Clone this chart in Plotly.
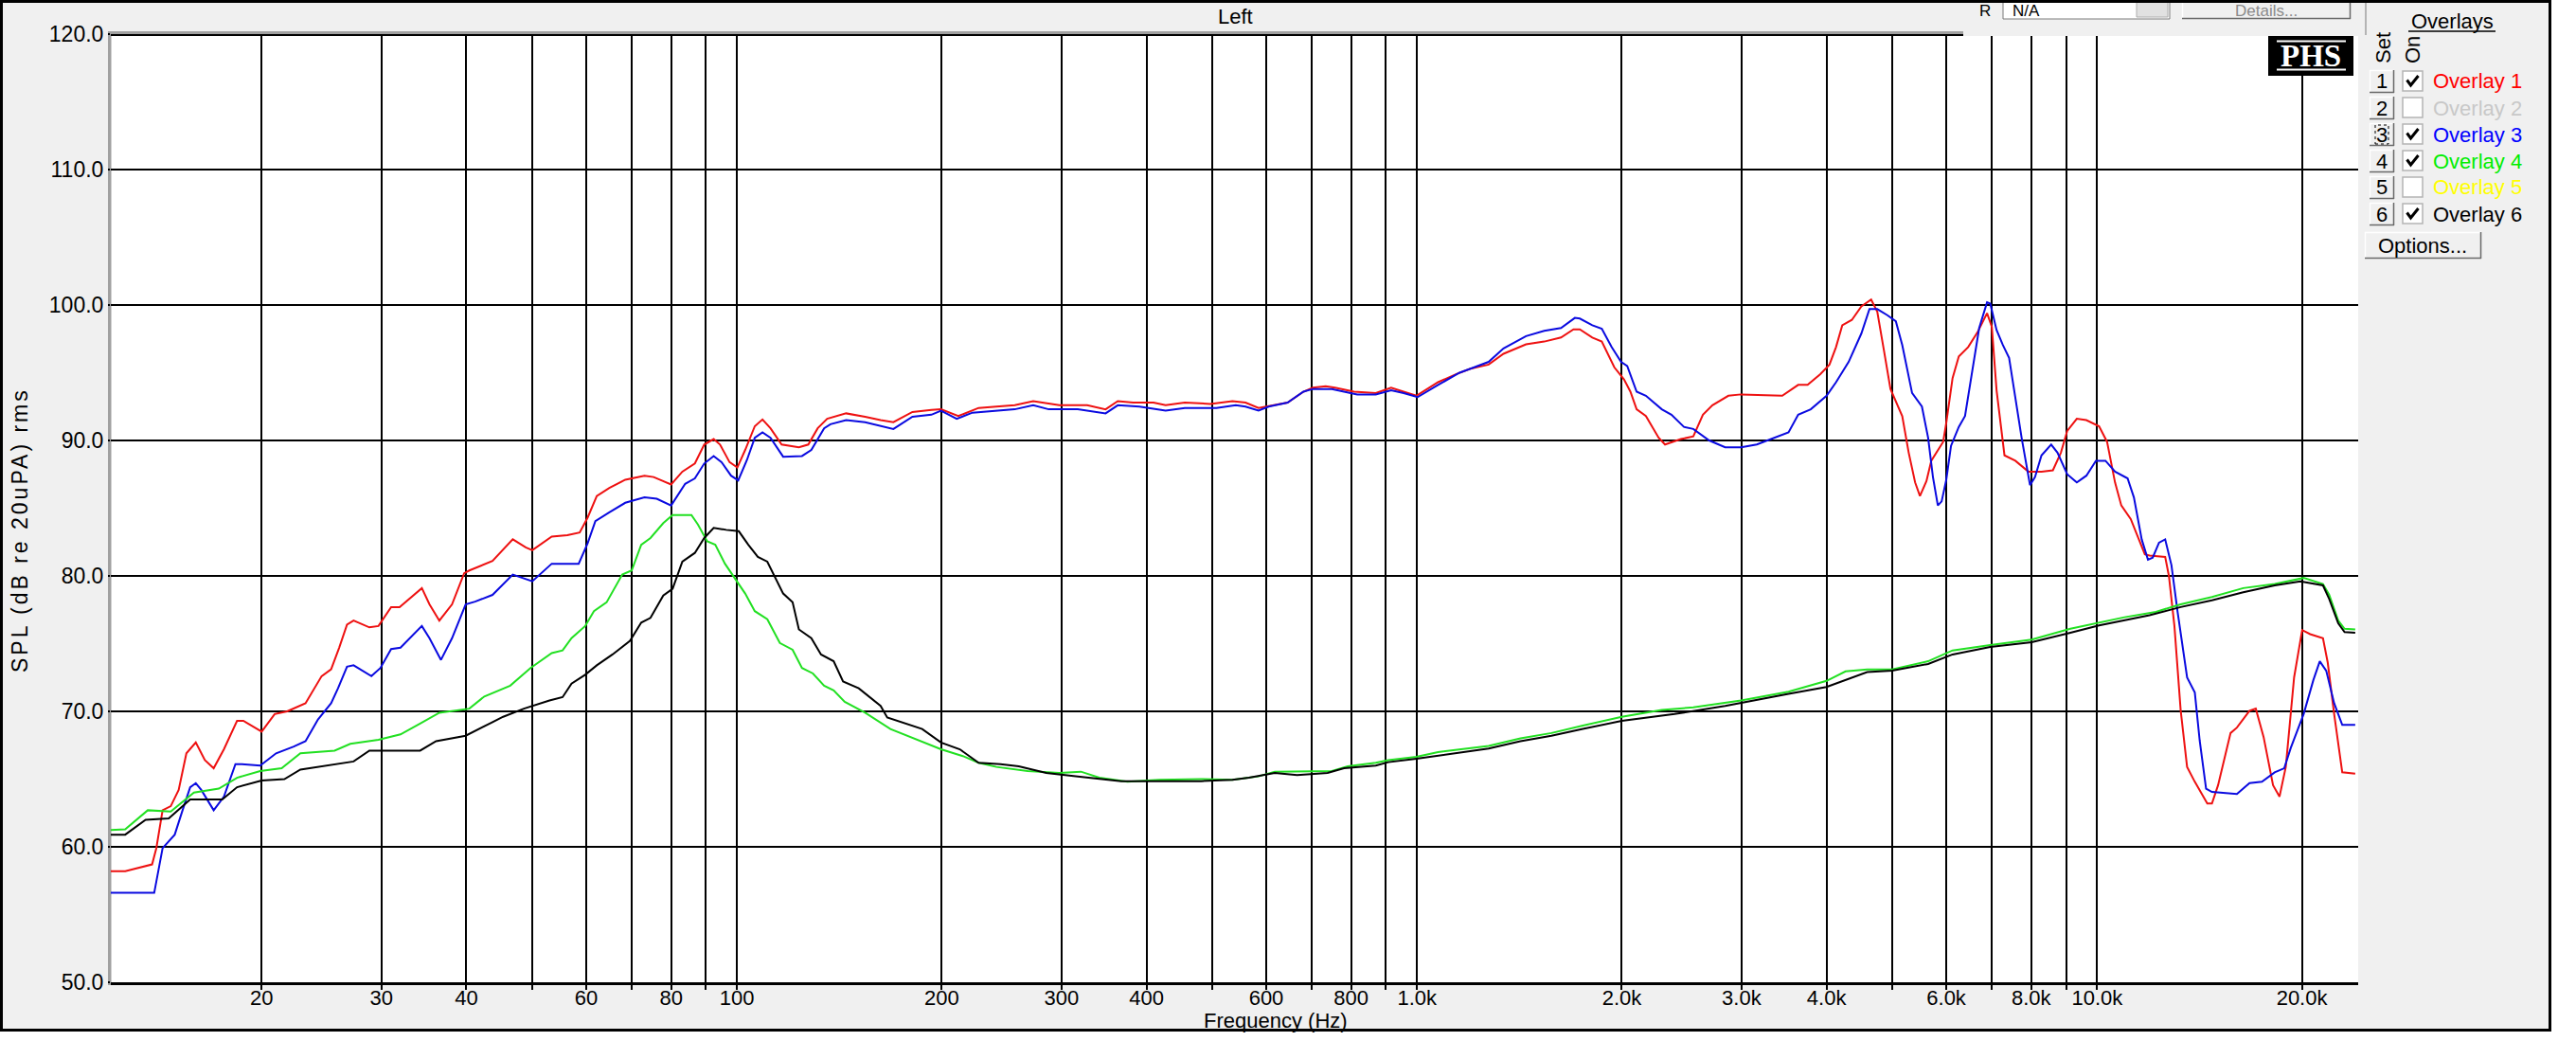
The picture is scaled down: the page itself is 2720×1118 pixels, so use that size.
import math
import plotly.graph_objects as go

# ------------------------------------------------------------------ data
freq_ov1 = [12.0, 12.6, 13.8, 14.0, 14.3, 14.7, 15.1, 15.5, 16.0, 16.5,
            17.0, 17.6, 18.4, 18.8, 20.0, 20.9, 21.8, 23.2, 24.5, 25.3,
            26.0, 26.7, 27.3, 28.8, 29.7, 31.0, 31.9, 34.4, 35.3, 36.5,
            38.1, 39.7, 40.4, 43.7, 46.8, 48.9, 50.0, 53.4, 56.3, 58.7,
            60.3, 62.2, 64.9, 68.5, 73.1, 75.4, 80.0, 83.1, 86.7, 89.5,
            92.4, 94.4, 97.5, 100.1, 102.8, 106.2, 109.0, 112.0, 116.3, 123.3,
            127.3, 131.4, 135.7, 144.7, 154.3, 162.6, 169.8, 181.1, 193.1, 199.5,
            211.5, 226.6, 240.6, 256.1, 272.6, 281.3, 297.8, 327.2, 348.3, 363.0,
            382.4, 409.6, 426.8, 455.4, 496.4, 535.2, 559.4, 584.6, 617.7, 645.0,
            680.6, 702.7, 733.8, 757.3, 807.8, 869.5, 915.7, 955.6, 997.5, 1073.6,
            1142.5, 1198, 1274, 1340, 1446, 1538, 1628, 1698, 1735, 1810,
            1869, 1950, 2015, 2059, 2103, 2170, 2266, 2315, 2443, 2548,
            2632, 2718, 2869, 2995, 3443, 3634, 3752, 3917, 4040, 4131,
            4219, 4358, 4501, 4652, 4750, 4860, 4967, 5169, 5283, 5399,
            5488, 5610, 5703, 5937, 6000, 6129, 6260, 6462, 6672, 6888,
            7000, 7114, 7307, 7580, 7923, 8282, 8608, 8845, 9036, 9334,
            9641, 10065, 10341, 10624, 10852, 11204, 11444, 11752, 11940, 12590,
            12750, 12925, 12990, 13270, 13560, 13918, 14520, 14750, 15060, 15710,
            16050, 16750, 17110, 17570, 18140, 18540, 18940, 19480, 20020, 20570,
            21480, 21830, 22310, 22930, 23960]
spl_ov1 = [58.2, 58.2, 58.7, 59.9, 62.7, 63.0, 64.2, 66.9, 67.7, 66.4,
           65.8, 67.2, 69.3, 69.3, 68.5, 69.8, 70.0, 70.6, 72.6, 73.1,
           74.7, 76.4, 76.7, 76.2, 76.3, 77.7, 77.7, 79.1, 77.9, 76.7,
           77.9, 80.2, 80.4, 81.1, 82.7, 82.1, 81.9, 82.9, 83.0, 83.2,
           84.3, 85.9, 86.5, 87.1, 87.4, 87.3, 86.75, 87.7, 88.3, 89.7,
           90.1, 89.7, 88.4, 88.0, 89.3, 91.05, 91.55, 90.9, 89.7, 89.5,
           89.7, 90.9, 91.6, 92.0, 91.75, 91.5, 91.35, 92.1, 92.25, 92.3,
           91.8, 92.4, 92.5, 92.6, 92.9, 92.8, 92.6, 92.6, 92.3, 92.9,
           92.8, 92.8, 92.6, 92.8, 92.7, 92.9, 92.8, 92.4, 92.6, 92.8,
           93.6, 93.9, 94.0, 93.9, 93.6, 93.5, 93.9, 93.6, 93.3, 94.3,
           94.9, 95.3, 95.6, 96.4, 97.1, 97.3, 97.6, 98.2, 98.2, 97.6,
           97.3, 95.4, 94.5, 93.6, 92.3, 91.8, 90.2, 89.7, 90.1, 90.3,
           91.9, 92.6, 93.3, 93.4, 93.3, 94.1, 94.1, 94.9, 95.6, 96.9,
           98.5, 98.9, 99.9, 100.4, 99.5, 96.6, 93.8, 91.8, 89.1, 86.9,
           85.9, 87.0, 88.5, 89.9, 91.3, 94.6, 96.2, 96.9, 98.0, 99.4,
           98.4, 93.7, 88.9, 88.5, 87.7, 87.7, 87.8, 89.1, 90.7, 91.6,
           91.5, 91.05, 89.9, 86.9, 85.2, 84.2, 83.0, 81.6, 81.5, 81.4,
           80.0, 77.4, 76.3, 70.05, 65.9, 64.8, 63.2, 63.2, 64.55, 68.4,
           68.8, 70.05, 70.2, 68.1, 64.55, 63.7, 65.9, 72.5, 76.0, 75.7,
           75.4, 73.6, 69.8, 65.5, 65.4]

freq_ov3 = [12.0, 13.9, 14.3, 14.9, 15.3, 15.7, 16.0, 16.3, 17.0, 17.6,
            18.3, 18.7, 19.9, 21.0, 22.3, 23.2, 24.2, 25.3, 25.9, 26.7,
            27.3, 29.0, 29.9, 31.0, 32.0, 34.4, 35.3, 36.7, 38.1, 39.9,
            41.2, 43.7, 46.8, 48.9, 50.0, 53.4, 58.5, 60.3, 61.9, 64.9,
            68.5, 73.1, 76.2, 80.0, 83.9, 86.7, 89.5, 92.4, 94.9, 98.0,
            100.4, 103.4, 106.2, 109.0, 112.0, 116.9, 124.6, 128.6, 134.3, 137.2,
            144.7, 154.3, 162.6, 169.8, 181.1, 193.1, 199.5, 210.4, 221.9, 240.6,
            256.1, 272.6, 287.3, 316.9, 348.3, 363.0, 390.6, 426.8, 455.4, 506.9,
            541.2, 559.4, 584.6, 605.0, 645.0, 680.6, 702.7, 749.4, 780.9, 816.5,
            869.5, 915.7, 955.6, 1001.6, 1073.6, 1154.8, 1198, 1274, 1340, 1446,
            1538, 1628, 1706, 1735, 1810, 1869, 1932, 1995, 2037, 2103,
            2170, 2290, 2366, 2468, 2548, 2689, 2838, 2995, 3159, 3333,
            3517, 3634, 3792, 4001, 4131, 4311, 4501, 4626, 4750, 4914,
            5058, 5169, 5344, 5525, 5642, 5735, 5831, 5906, 6000, 6097,
            6260, 6393, 6530, 6707, 6888, 6963, 7114, 7266, 7422, 7580,
            7743, 7967, 8103, 8282, 8558, 8743, 9036, 9334, 9641, 9959,
            10286, 10624, 11086, 11325, 11628, 11877, 12070, 12330, 12590, 12860,
            13130, 13560, 13918, 14150, 14460, 14750, 16050, 16750, 17470, 18240,
            18840, 19260, 20120, 20790, 21250, 21720, 22310, 22930, 23960]
spl_ov3 = [56.6, 56.6, 59.9, 60.9, 62.7, 64.4, 64.7, 64.2, 62.7, 63.7,
           66.1, 66.1, 66.0, 66.9, 67.4, 67.8, 69.4, 70.6, 71.7, 73.3,
           73.4, 72.6, 73.2, 74.6, 74.7, 76.3, 75.4, 73.8, 75.4, 77.9,
           78.1, 78.6, 80.1, 79.8, 79.6, 80.9, 80.9, 82.4, 84.05, 84.7,
           85.4, 85.8, 85.7, 85.2, 86.8, 87.2, 88.3, 88.85, 88.4, 87.4,
           87.05, 88.55, 90.2, 90.6, 90.2, 88.8, 88.85, 89.3, 90.9, 91.2,
           91.5, 91.35, 91.1, 90.85, 91.75, 91.9, 92.2, 91.6, 92.05, 92.2,
           92.3, 92.6, 92.3, 92.3, 92.0, 92.6, 92.5, 92.2, 92.4, 92.4,
           92.6, 92.5, 92.2, 92.5, 92.8, 93.6, 93.8, 93.8, 93.6, 93.4,
           93.4, 93.7, 93.5, 93.2, 94.1, 95.0, 95.3, 95.8, 96.8, 97.7,
           98.1, 98.3, 99.05, 99.0, 98.5, 98.25, 96.9, 95.8, 95.5, 93.6,
           93.3, 92.3, 91.9, 91.0, 90.85, 90.0, 89.5, 89.5, 89.7, 90.15,
           90.6, 91.9, 92.3, 93.3, 94.3, 95.8, 97.9, 99.7, 99.7, 99.25,
           98.8, 97.05, 93.5, 92.5, 90.2, 87.3, 85.2, 85.5, 87.1, 89.6,
           91.0, 91.8, 94.6, 98.3, 100.2, 100.1, 98.15, 97.05, 96.1, 93.2,
           90.2, 86.7, 87.3, 88.9, 89.7, 89.1, 87.5, 86.9, 87.4, 88.5,
           88.5, 87.7, 87.2, 85.8, 82.7, 81.2, 81.35, 82.45, 82.7, 80.8,
           77.35, 72.5, 71.4, 67.85, 64.3, 64.05, 63.9, 64.7, 64.8, 65.5,
           65.8, 67.3, 69.8, 72.3, 73.7, 73.0, 70.6, 69.0, 69.0]

freq_ov4 = [12.0, 12.6, 13.6, 14.7, 15.9, 17.3, 18.4, 19.9, 21.4, 22.8,
            25.6, 27.0, 29.7, 32.0, 34.2, 36.5, 40.4, 42.5, 46.4, 49.7,
            53.4, 55.4, 57.1, 59.8, 61.6, 64.3, 67.8, 70.0, 72.3, 74.6,
            77.9, 80.4, 85.7, 87.6, 90.4, 92.9, 96.0, 100.1, 102.8, 106.2,
            110.8, 115.6, 120.7, 124.6, 129.3, 134.3, 138.7, 144.0, 154.3, 168.1,
            181.1, 199.5, 214.8, 226.6, 240.6, 267.5, 297.8, 320.4, 341.0, 375.1,
            418.0, 481.4, 535.2, 584.6, 617.7, 702.7, 749.4, 790.9, 869.5, 907.2,
            997.5, 1073.6, 1274, 1419, 1576, 1753, 2000, 2290, 2548, 2995,
            3517, 4000, 4266, 4590, 4995, 5642, 6129, 6963, 8011, 9134,
            10065, 10970, 12200, 13270, 14750, 16400, 18240, 20120, 21480, 21940,
            22620, 23110, 23960]
spl_ov4 = [61.25, 61.3, 62.7, 62.6, 64.0, 64.3, 65.1, 65.6, 65.8, 66.9,
           67.1, 67.6, 67.9, 68.3, 69.1, 69.9, 70.2, 71.1, 71.9, 73.2,
           74.3, 74.5, 75.4, 76.3, 77.4, 78.05, 80.1, 80.4, 82.3, 82.8,
           83.9, 84.5, 84.5, 83.8, 82.55, 82.3, 80.9, 79.55, 78.7, 77.4,
           76.8, 75.05, 74.55, 73.2, 72.8, 71.9, 71.55, 70.7, 69.9, 68.7,
           68.05, 67.2, 66.7, 66.2, 65.9, 65.6, 65.45, 65.55, 65.1, 64.8,
           64.95, 65.0, 64.95, 65.2, 65.55, 65.55, 65.6, 65.95, 66.2, 66.4,
           66.65, 67.0, 67.45, 68.0, 68.4, 68.95, 69.6, 70.1, 70.3, 70.8,
           71.45, 72.25, 72.95, 73.1, 73.1, 73.7, 74.5, 74.9, 75.3, 76.1,
           76.55, 76.95, 77.35, 77.9, 78.45, 79.1, 79.4, 79.85, 79.4, 78.6,
           76.7, 76.1, 76.05]

freq_ov6 = [12.0, 12.6, 13.5, 14.6, 15.7, 17.5, 18.4, 20.0, 21.6, 22.8,
            27.3, 28.8, 34.2, 36.1, 39.9, 42.5, 45.3, 48.6, 53.0, 55.4,
            57.1, 59.8, 62.2, 65.6, 69.6, 72.3, 74.6, 77.9, 80.4, 83.1,
            86.7, 89.5, 92.4, 96.4, 100.6, 103.9, 107.3, 110.8, 113.8, 116.9,
            120.7, 123.3, 128.6, 132.9, 138.7, 143.2, 151.0, 162.6, 166.3, 187.2,
            199.5, 212.6, 226.6, 244.1, 259.6, 284.9, 316.9, 341.0, 367.2, 418.0,
            481.4, 535.2, 565.8, 617.7, 666.2, 738.6, 780.9, 869.5, 907.2, 997.5,
            1131, 1274, 1419, 1576, 1753, 2000, 2391, 2838, 3517, 4000,
            4590, 4995, 5642, 6129, 6963, 8011, 9134, 10065, 11940, 13270,
            14750, 16400, 18240, 19900, 21480, 21940, 22620, 23110, 23960]
spl_ov6 = [60.9, 60.9, 62.0, 62.1, 63.5, 63.5, 64.4, 64.9, 65.0, 65.7,
           66.3, 67.1, 67.1, 67.8, 68.2, 68.9, 69.6, 70.2, 70.8, 71.05,
           72.05, 72.7, 73.4, 74.2, 75.2, 76.55, 76.9, 78.55, 79.05, 81.05,
           81.7, 82.8, 83.55, 83.4, 83.3, 82.3, 81.4, 81.05, 79.9, 78.7,
           78.05, 76.05, 75.4, 74.2, 73.7, 72.2, 71.7, 70.4, 69.55, 68.7,
           67.7, 67.2, 66.2, 66.1, 65.95, 65.45, 65.2, 65.0, 64.85, 64.85,
           64.85, 64.95, 65.1, 65.45, 65.3, 65.45, 65.8, 66.0, 66.25, 66.5,
           66.9, 67.25, 67.8, 68.2, 68.7, 69.3, 69.8, 70.4, 71.3, 71.8,
           72.9, 73.0, 73.5, 74.2, 74.75, 75.1, 75.8, 76.35, 77.1, 77.7,
           78.2, 78.8, 79.3, 79.6, 79.3, 78.3, 76.5, 75.85, 75.8]

for a, b in [(freq_ov1, spl_ov1), (freq_ov3, spl_ov3), (freq_ov4, spl_ov4), (freq_ov6, spl_ov6)]:
    assert len(a) == len(b), (len(a), len(b))

major_ticks = [20, 30, 40, 60, 80, 90, 100, 200, 300, 400, 600, 800, 900, 1000,
               2000, 3000, 4000, 6000, 8000, 9000, 10000, 20000]
major_text = ["20", "30", "40", "60", "80", "", "100", "200", "300", "400", "600", "800", "",
              "1.0k", "2.0k", "3.0k", "4.0k", "6.0k", "8.0k", "", "10.0k", "20.0k"]
minor_ticks = [50, 70, 500, 700, 5000, 7000]

overlay_names = ["Overlay 1", "Overlay 2", "Overlay 3", "Overlay 4", "Overlay 5", "Overlay 6"]
overlay_colors = ["#ff0000", "#c8c8c8", "#0000ff", "#00ee00", "#ffff00", "#000000"]
overlay_on = [True, False, True, True, False, True]

# ------------------------------------------------------------------ layout geometry
W, H = 2720, 1118
PL, PR, PT, PB = 117, 2490, 36, 1037
FONT = "Liberation Sans, Arial, sans-serif"
FS = 22
TFS = 23
GREY = "#f0f0f0"


def px(x):
    return x / W


def py(y):
    return 1 - y / H


shapes = []
annots = []


def rect(x0, y0, x1, y1, fill=None, line=None, lw=0, layer="above", dash=None):
    d = dict(type="rect", xref="paper", yref="paper", x0=px(x0), x1=px(x1), y0=py(y1), y1=py(y0),
             layer=layer, line=dict(width=lw, color=line or "rgba(0,0,0,0)"))
    if dash:
        d["line"]["dash"] = dash
    if fill:
        d["fillcolor"] = fill
    shapes.append(d)


def hline(x0, x1, y, color, w, layer="above"):
    shapes.append(dict(type="line", xref="paper", yref="paper", x0=px(x0), x1=px(x1), y0=py(y), y1=py(y),
                       line=dict(color=color, width=w), layer=layer))


def vline(x, y0, y1, color, w, layer="above"):
    shapes.append(dict(type="line", xref="paper", yref="paper", x0=px(x), x1=px(x), y0=py(y0), y1=py(y1),
                       line=dict(color=color, width=w), layer=layer))


def text(x, y, s, color="black", size=FS, xanchor="center", angle=0, family=FONT):
    annots.append(dict(xref="paper", yref="paper", x=px(x), y=py(y), text=s, showarrow=False,
                       xanchor=xanchor, yanchor="middle", textangle=angle,
                       font=dict(family=family, size=size, color=color)))


def button(x0, y0, x1, y1):
    rect(x0, y0, x1, y1, fill=GREY)
    hline(x0, x1, y0 + 0.5, "#ffffff", 1.5)
    vline(x0 + 0.5, y0, y1, "#ffffff", 1.5)
    hline(x0, x1, y1 - 0.5, "#696969", 1.5)
    vline(x1 - 0.5, y0, y1, "#696969", 1.5)


# window frame and plot area
rect(1.5, 1.5, 2692.5, 1087.5, fill=GREY, line="black", lw=3, layer="below")
rect(PL, PT, PR, PB, fill="white", layer="below")
rect(114, 33, PR, 36.5, fill="#a0a0a0", layer="below")
rect(114, 33, 117.5, 1040, fill="#a0a0a0", layer="below")
hline(PL, PR, 37, "black", 2, layer="below")

# top-right control strip (partly cut off at the window top)
rect(2073, 0, 2494, 38, fill=GREY)
vline(2498, 0, 37, "#a0a0a0", 1.5)
rect(2115, 0, 2291, 20, fill="white", line="#7a7a7a", lw=1)
rect(2256, 0, 2289, 18, fill="#e1e1e1", line="#adadad", lw=1)
button(2304, -4, 2482, 20)
text(2096, 11, "R", size=17)
text(2123, 11, "N/A", xanchor="left", size=17)
text(2393, 11, "Details...", color="#8a8a8a", size=17)
hline(0, 2694, 1.5, "black", 3)

# PHS logo
rect(2395, 38, 2485, 80, fill="black")
hline(2404, 2477, 43.5, "white", 2)
hline(2404, 2477, 73.5, "white", 2)
text(2440, 59, "<b>PHS</b>", color="white", size=33, family="Liberation Serif, Times New Roman, serif")

# overlays panel
text(2589, 22, "Overlays")
hline(2543, 2635, 33, "black", 1.5)
text(2516, 51, "Set", angle=-90)
text(2547, 53, "On", angle=-90)
row_y = [86, 114, 142, 170, 198, 226]
for i, (name, col, on, cy) in enumerate(zip(overlay_names, overlay_colors, overlay_on, row_y)):
    button(2502, cy - 12, 2528, cy + 12)
    text(2515, cy, str(i + 1))
    if i == 2:
        rect(2508, cy - 10, 2522, cy + 10, line="black", lw=1, dash="dot")
    rect(2537, cy - 11, 2558, cy + 10, fill="white", line="#b4b4b4", lw=1.5)
    if on:
        pts = [(2541.5, cy - 1.5), (2545.5, cy + 4), (2553.5, cy - 6)]
        path = "M " + " L ".join(f"{px(a)},{py(b)}" for a, b in pts)
        shapes.append(dict(type="path", xref="paper", yref="paper", path=path,
                           line=dict(color="black", width=3), layer="above"))
    text(2567, cy, name, color=col, xanchor="left")
button(2497, 245, 2620, 273)
text(2558, 259, "Options...")

# titles
text(1304, 17, "Left")
text(1347, 1077, "Frequency (Hz)", size=FS)
text(21, 560, '<span style="letter-spacing:3px">SPL (dB re 20uPA) rms</span>', angle=-90, size=23)

# ------------------------------------------------------------------ traces
fig = go.Figure()
for f, s, c in [(freq_ov1, spl_ov1, "#ee1111"), (freq_ov3, spl_ov3, "#0a0ae0"),
                (freq_ov4, spl_ov4, "#22e022"), (freq_ov6, spl_ov6, "#000000")]:
    fig.add_trace(go.Scatter(x=f, y=s, mode="lines", line=dict(color=c, width=2),
                             showlegend=False, hoverinfo="skip"))

fig.update_layout(
    width=W, height=H, autosize=False,
    margin=dict(l=0, r=0, t=0, b=0, pad=0),
    paper_bgcolor="white", plot_bgcolor="white",
    font=dict(family=FONT, size=FS, color="black"),
    shapes=shapes, annotations=annots,
    xaxis=dict(
        type="log", domain=[px(PL), px(PR)], automargin=False,
        range=[math.log10(12.0), math.log10(24200)],
        tickmode="array", tickvals=major_ticks, ticktext=major_text,
        showgrid=True, gridcolor="black", gridwidth=2,
        ticks="outside", ticklen=5, tickwidth=2, tickcolor="black",
        ticklabelstandoff=-10,
        tickfont=dict(family=FONT, size=FS, color="black"),
        showline=True, linecolor="black", linewidth=3, zeroline=False,
        minor=dict(tickmode="array", tickvals=minor_ticks, showgrid=True, gridcolor="black",
                   gridwidth=1.5, ticks="outside", ticklen=5, tickwidth=1.5, tickcolor="black"),
    ),
    yaxis=dict(
        domain=[py(PB), py(PT)], range=[50, 120], automargin=False,
        tickmode="linear", tick0=50, dtick=10, tickformat=".1f",
        showgrid=True, gridcolor="black", gridwidth=2,
        ticks="outside", ticklen=2, tickwidth=2, tickcolor="black",
        tickfont=dict(family=FONT, size=TFS, color="black"),
        showline=False, zeroline=False,
    ),
)

fig.write_html("out.html", config={"displayModeBar": False},
               post_script="document.body.style.margin='0';document.body.style.overflow='hidden';")
